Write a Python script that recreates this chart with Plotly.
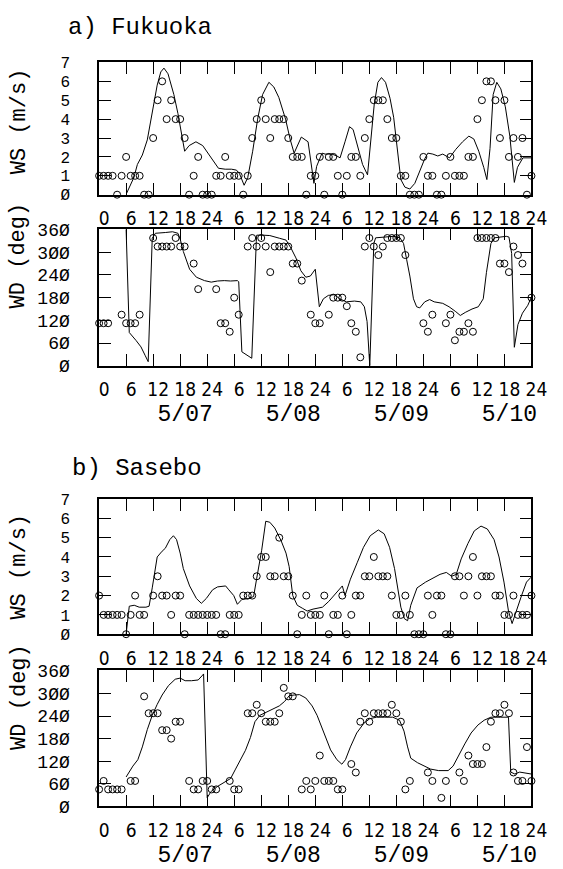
import plotly.graph_objects as go

N = None
hours = list(range(97))

# ---------------- observations (hourly, circles) ----------------
fuk_ws_obs = [1, 1, 1, 1, 0, 1, 2, 1, 1, 1,
              0, 0, 3, 5, 6, 4, 5, 4, 4, 3,
              0, 1, 2, 0, 0, 0, 1, 1, 2, 1,
              1, 1, 0, 1, 3, 4, 5, 4, 3, 4,
              4, 4, 3, 2, 2, 2, 0, 1, 1, 2,
              0, 2, 2, 1, 0, 1, 2, 2, 1, 3,
              4, 5, 5, 5, 4, 3, 3, 1, 1, 0,
              0, 0, 2, 1, 1, 0, 0, 1, 2, 1,
              1, 1, 2, 2, 4, 5, 6, 6, 5, 3,
              5, 2, 3, 2, 3, 0, 1]
fuk_wd_obs = [112.5, 112.5, 112.5, N, N, 135, 112.5, 112.5, 112.5, 135,
              N, N, 337.5, 315, 315, 315, 315, 337.5, 315, 315,
              N, 270, 202.5, N, N, N, 202.5, 112.5, 112.5, 90,
              180, 135, N, 315, 337.5, 315, 337.5, 315, 247.5, 315,
              315, 315, 315, 270, 270, 225, N, 135, 112.5, 112.5,
              N, 135, 180, 180, 180, 157.5, 112.5, 90, 22.5, 315,
              337.5, 315, 292.5, 315, 337.5, 337.5, 337.5, 337.5, 292.5, N,
              N, N, 112.5, 90, 135, N, N, 112.5, 135, 67.5,
              90, 90, 112.5, 90, 337.5, 337.5, 337.5, 337.5, 337.5, 270,
              270, 247.5, 315, 292.5, 270, N, 180]
sas_ws_obs = [2, 1, 1, 1, 1, 1, 0, 1, 2, 1,
              1, N, 2, 3, 2, 2, 1, 2, 2, 0,
              1, 1, 1, 1, 1, 1, 1, 0, 0, 1,
              1, 1, 2, 2, 2, 3, 4, 4, 3, 3,
              5, 3, 3, 2, 0, 1, 2, 1, 1, 1,
              2, 0, 1, 1, 2, 0, 1, 2, 2, 3,
              3, 4, 3, 3, 3, 2, 1, 1, 2, 1,
              0, 0, 0, 2, 1, 2, 2, 0, 0, 3,
              3, 2, 3, 4, 2, 3, 3, 3, 2, 2,
              1, 1, 2, 1, 1, 1, 2]
sas_wd_obs = [45, 67.5, 45, 45, 45, 45, N, 67.5, 67.5, N,
              292.5, 247.5, 247.5, 247.5, 202.5, 202.5, 180, 225, 225, N,
              67.5, 45, 45, 67.5, 67.5, 45, 45, N, N, 67.5,
              45, 45, N, 247.5, 247.5, 270, 247.5, 225, 225, 225,
              247.5, 315, 292.5, 292.5, N, 45, 67.5, 45, 67.5, 135,
              67.5, 67.5, 67.5, 45, 45, N, 112.5, 90, 225, 247.5,
              225, 247.5, 247.5, 247.5, 247.5, 270, 247.5, 225, 45, 67.5,
              N, N, N, 90, 67.5, N, 22.5, 67.5, N, N,
              90, 67.5, 135, 112.5, 112.5, 112.5, 157.5, 225, 247.5, 247.5,
              270, 247.5, 90, 67.5, 67.5, 157.5, 67.5]

# ---------------- model (lines) ----------------
fuk_ws_mod_h = [6.1, 7.7, 8.5, 9.6, 10.7, 11.8, 12.9, 13.7, 14.4, 15.3, 16.6, 17.5, 18.3, 19.0,
                20.0, 21.5, 23.0, 24.4, 25.5, 26.5, 28.0, 29.4, 30.5, 31.2, 32.2, 33.0, 34.1,
                35.2, 36.3, 37.7, 38.8, 39.9, 41.4, 42.4, 43.3, 44.2, 44.9, 46.4, 47.0, 47.7,
                48.3, 49.5, 50.2, 51.7, 52.8, 53.5, 54.6, 55.6, 56.4, 57.5, 58.5, 59.6, 60.3,
                61.1, 61.9, 62.7, 63.6, 64.6, 65.4, 66.2, 67.0, 67.9, 69.0, 70.1, 71.2, 72.3,
                73.0, 74.1, 75.2, 76.3, 77.8, 79.2, 80.7, 82.1, 83.2, 84.3, 85.4, 86.1, 86.8,
                87.5, 88.3, 89.2, 90.2, 91.2, 92.2, 92.9, 94.1, 95.9]
fuk_ws_mod_v = [0.07, 0.9, 1.6, 2.1, 2.9, 4.3, 5.8, 6.5, 6.7, 6.4, 5.3, 4.3, 3.3, 2.3,
                2.6, 2.8, 2.6, 2.1, 1.7, 1.4, 1.35, 1.35, 1.3, 1.1, 0.5, 0.9, 2.3,
                4.0, 5.3, 5.95, 5.7, 5.15, 4.0, 2.95, 2.2, 2.7, 3.05, 2.8, 1.8, 0.6,
                1.5, 2.2, 2.15, 2.15, 2.05, 1.95, 2.8, 3.6, 3.45, 2.45, 1.6, 1.05, 2.8,
                4.8, 5.95, 6.2, 5.95, 5.1, 4.1, 2.6, 0.8, 0.4, 0.3, 0.6, 1.3, 1.9,
                2.2, 2.15, 2.05, 2.15, 1.95, 2.4, 2.8, 3.1, 2.95, 2.3, 1.45, 0.8, 2.45,
                5.3, 5.95, 5.6, 4.65, 3.1, 0.65, 1.45, 1.95, 1.95]

fuk_wd_mod_h = [6.0, 6.7, 8.2, 9.3, 10.2, 10.9, 11.8, 12.5, 14.7, 16.3, 17.5, 18.0, 18.7, 19.4,
                20.1, 21.6, 23.4, 24.9, 26.3, 27.8, 29.2, 30.7, 31.0, 31.7, 32.8, 33.9, 34.9,
                35.0, 36.4, 37.9, 40.0, 41.5, 42.6, 43.7, 44.8, 45.9, 46.9, 48.0, 48.9, 49.8,
                50.9, 52.3, 53.4, 54.9, 56.7, 58.1, 58.9, 59.5, 60.1, 61.0, 61.4, 63.2, 65.4,
                66.8, 67.6, 68.3, 69.0, 69.8, 70.5, 71.2, 72.3, 73.4, 74.4, 76.3, 77.7, 79.2,
                80.2, 81.3, 82.8, 84.2, 85.3, 86.0, 87.0, 87.8, 89.3, 90.4, 91.0, 91.6, 92.2,
                93.0, 94.0, 95.2, 96.0]
fuk_wd_mod_v = [360, 88, 67, 50, 28, 11, 337, 350, 352, 354, 350, 335, 302, 277,
                255, 234, 225, 221, 224, 225, 224, 225, 222, 37, 28, 20, 328,
                345, 345, 344, 337, 332, 311, 285, 251, 234, 237, 255, 156, 177,
                186, 188, 177, 169, 171, 169, 156, 117, 0, 323, 338, 340, 342,
                338, 323, 280, 237, 177, 156, 153, 169, 175, 169, 165, 156, 143,
                133, 141, 150, 156, 177, 246, 323, 338, 340, 342, 340, 297, 49,
                109, 139, 160, 182]

sas_ws_mod_h = [6.0, 6.7, 7.8, 8.9, 10.4, 11.1, 11.8, 12.9, 14.0, 14.7, 15.7, 16.5, 17.2, 18.0,
                18.7, 20.1, 21.6, 22.7, 23.8, 25.2, 26.3, 28.1, 28.8, 29.9, 30.7, 31.7, 33.2,
                34.3, 35.0, 36.1, 37.0, 37.9, 39.0, 40.4, 41.5, 42.2, 43.0, 44.0, 45.1, 46.2,
                47.5, 49.6, 51.0, 52.8, 54.0, 54.6, 55.8, 57.3, 58.7, 60.2, 62.0, 63.3, 64.5,
                65.6, 66.3, 67.0, 67.8, 68.5, 69.2, 70.6, 72.5, 74.3, 75.7, 77.1, 78.3, 79.3,
                80.4, 81.9, 83.3, 84.8, 86.2, 87.7, 88.8, 89.9, 90.9, 91.7, 92.8, 93.8, 94.9,
                95.9]
sas_ws_mod_v = [0.0, 1.45, 1.5, 1.4, 1.4, 1.45, 2.4, 4.0, 4.3, 4.45, 4.9, 5.1, 4.9, 4.2,
                3.4, 2.5, 1.85, 1.6, 1.85, 2.3, 2.45, 2.5, 2.3, 2.0, 1.55, 1.8, 1.85,
                1.95, 2.9, 4.35, 5.85, 5.8, 5.5, 4.85, 4.2, 3.5, 2.0, 1.5, 1.35, 1.2,
                1.3, 1.4, 1.7, 2.2, 2.5, 2.0, 2.85, 3.7, 4.5, 5.1, 5.4, 5.2, 4.5,
                3.4, 2.4, 1.4, 0.8, 0.7, 1.5, 2.4, 2.7, 2.95, 3.1, 3.2, 3.0, 3.1,
                3.9, 4.7, 5.35, 5.6, 5.45, 4.9, 4.0, 2.7, 1.2, 0.55, 1.35, 2.0, 2.7,
                2.95]

sas_wd_mod_h = [6.0, 7.5, 8.6, 9.6, 10.7, 11.8, 12.9, 14.0, 15.4, 16.9, 18.0, 19.1, 20.5, 22.0,
                23.0, 23.2, 24.0, 24.9, 26.3, 27.8, 29.2, 30.3, 31.4, 32.5, 33.6, 34.6, 35.7,
                37.2, 38.6, 40.0, 41.2, 42.2, 43.3, 44.5, 45.9, 47.3, 48.4, 50.0, 51.4, 52.8,
                53.9, 54.7, 55.8, 57.2, 58.8, 60.1, 61.6, 63.4, 65.2, 66.7, 67.7, 68.5, 69.2,
                70.7, 72.1, 73.6, 75.4, 77.5, 78.6, 79.7, 81.2, 82.6, 84.1, 85.5, 87.0, 89.1,
                90.9, 91.4, 92.3, 93.4, 95.9]
sas_wd_mod_v = [78, 107, 124, 158, 204, 242, 271, 296, 321, 338, 341, 334, 334, 336,
                349, 352, 23, 40, 53, 65, 74, 99, 124, 149, 183, 225, 242,
                250, 258, 267, 279, 294, 296, 297, 288, 267, 242, 190, 150, 124,
                112, 124, 158, 195, 221, 233, 237, 237, 237, 229, 200, 158, 128,
                116, 107, 99, 95, 95, 107, 133, 166, 195, 216, 229, 237, 237,
                237, 91, 86, 91, 86]

# ---------------- tick labels ----------------
x_tick_vals = [0, 6, 12, 18, 24, 30, 36, 42, 48, 54, 60, 66, 72, 78, 84, 90, 96]
x_tick_text = ["0", "6", "12", "18", "24", "6", "12", "18", "24",
               "6", "12", "18", "24", "6", "12", "18", "24"]
date_labels = {18: "5/07", 42: "5/08", 66: "5/09", 90: "5/10"}
ws_tick_vals = [0, 1, 2, 3, 4, 5, 6, 7]
ws_tick_text = ["Ø", "1", "2", "3", "4", "5", "6", "7"]
wd_tick_vals = [0, 60, 120, 180, 240, 300, 360]
wd_tick_text = ["Ø", "6Ø", "12Ø", "18Ø", "24Ø", "3ØØ", "36Ø"]

panel_titles = ["a) Fukuoka", "b) Sasebo"]
ws_title = "WS (m/s)"
wd_title = "WD (deg)"

# ---------------- figure ----------------
W, H = 563, 869
LINE = dict(color="black", width=1)
MARK = dict(symbol="circle-open", size=7, color="black", line=dict(width=1, color="black"))

panels = [
    ("x", "y", fuk_ws_mod_h, fuk_ws_mod_v, fuk_ws_obs),
    ("x2", "y2", fuk_wd_mod_h, fuk_wd_mod_v, fuk_wd_obs),
    ("x3", "y3", sas_ws_mod_h, sas_ws_mod_v, sas_ws_obs),
    ("x4", "y4", sas_wd_mod_h, sas_wd_mod_v, sas_wd_obs),
]

fig = go.Figure()
for xa, ya, mh, mv, obs in panels:
    fig.add_trace(go.Scatter(x=mh, y=mv, mode="lines", line=LINE, xaxis=xa, yaxis=ya,
                             showlegend=False, hoverinfo="skip"))
    fig.add_trace(go.Scatter(x=hours, y=obs, mode="markers", marker=MARK, xaxis=xa, yaxis=ya,
                             showlegend=False, cliponaxis=False))

TICKFONT_X = dict(family="Liberation Sans Narrow, DejaVu Sans Condensed, Liberation Sans",
                  size=19, color="black")
TICKFONT_WS = dict(family="Liberation Mono, DejaVu Sans Mono", size=16, color="black")
TICKFONT_WD = dict(family="Liberation Mono, DejaVu Sans Mono", size=18, color="black")
DATE_STYLE = "font-family:Liberation Mono;font-size:23px"


def px_dom(top, bottom):
    return [1 - bottom / H, 1 - top / H]


x_dom = [102 / W, 547 / W]
frames = {  # (top px, bottom px)
    1: (56, 192),
    2: (227, 368),
    3: (505, 644),
    4: (681, 821),
}

common_axis = dict(showline=True, linecolor="black", linewidth=1.5, mirror="ticks",
                   ticks="inside", ticklen=12, tickwidth=1, tickcolor="black",
                   showgrid=False, zeroline=False, ticklabeloverflow="allow")

for i in range(1, 5):
    is_wd = i in (2, 4)
    if is_wd:
        tt = [t + ("<br><span style='%s'>%s</span>" % (DATE_STYLE, date_labels[v])
                   if v in date_labels else "") for v, t in zip(x_tick_vals, x_tick_text)]
    else:
        tt = x_tick_text
    xkey = "xaxis" if i == 1 else "xaxis%d" % i
    ykey = "yaxis" if i == 1 else "yaxis%d" % i
    fig.update_layout({
        xkey: dict(common_axis, domain=x_dom, range=[0, 96], anchor="y" if i == 1 else "y%d" % i,
                   tickmode="array", tickvals=x_tick_vals, ticktext=tt, tickangle=0,
                   tickfont=TICKFONT_X, ticklabelstandoff=6, ticklabelshift=5),
        ykey: dict(common_axis, domain=px_dom(*frames[i]),
                   range=[0, 362] if is_wd else [0, 7],
                   anchor="x" if i == 1 else "x%d" % i,
                   tickmode="array",
                   tickvals=wd_tick_vals if is_wd else ws_tick_vals,
                   ticktext=wd_tick_text if is_wd else ws_tick_text,
                   tickfont=TICKFONT_WD if is_wd else TICKFONT_WS,
                   ticklabelstandoff=24),
    })

annotations = [
    dict(text=panel_titles[0], x=144 / W, y=1 - 20 / H),
    dict(text=panel_titles[1], x=141 / W, y=1 - 474 / H),
]
for a in annotations:
    a.update(xref="paper", yref="paper", showarrow=False, xanchor="center", yanchor="middle",
             font=dict(family="Liberation Mono, DejaVu Sans Mono", size=24, color="black"))

for txt, yc in [(ws_title, 116), (wd_title, 254), (ws_title, 574), (wd_title, 708)]:
    annotations.append(dict(text=txt, x=20 / W, y=1 - yc / H, xref="paper", yref="paper",
                            showarrow=False, textangle=-90, xanchor="center", yanchor="middle",
                            font=dict(family="Liberation Mono, DejaVu Sans Mono", size=22,
                                      color="black")))

fig.update_layout(width=W, height=H, autosize=False,
                  margin=dict(l=0, r=0, t=0, b=0),
                  paper_bgcolor="white", plot_bgcolor="white",
                  annotations=annotations, showlegend=False)

fig.write_html("out.html", config={"displayModeBar": False},
               post_script="document.body.style.margin='0';")
